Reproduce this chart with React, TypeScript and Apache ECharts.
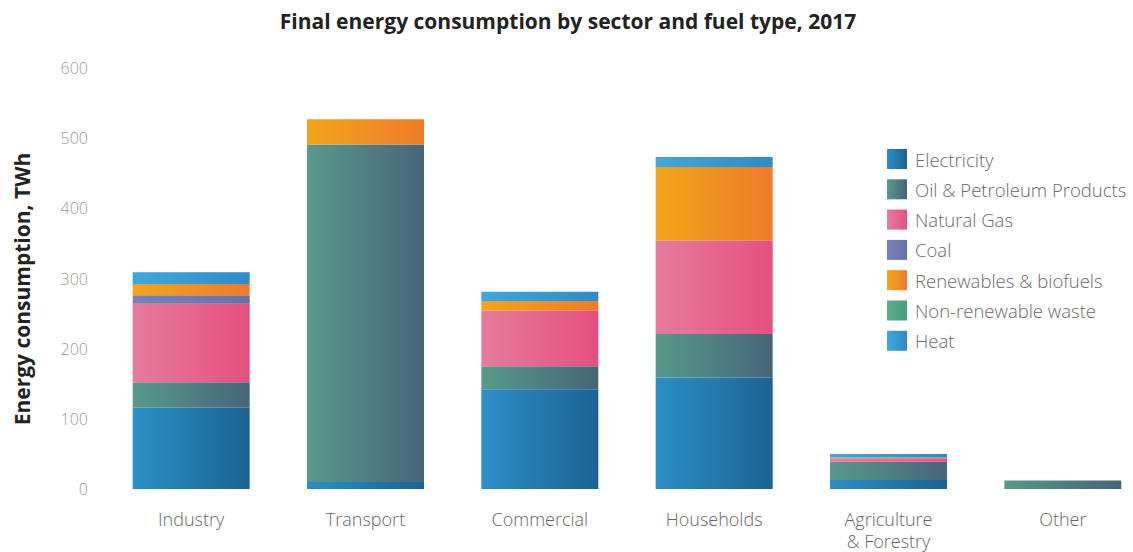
import React, { useEffect, useRef } from "react";
import * as echarts from "echarts";

const categories = ["Industry", "Transport", "Commercial", "Households", "Agriculture\n& Forestry", "Other"];
const seriesNames = [
  "Electricity",
  "Oil & Petroleum Products",
  "Natural Gas",
  "Coal",
  "Renewables & biofuels",
  "Non-renewable waste",
  "Heat",
];
const electricity = [116, 10, 142, 159, 13, 0];
const oil = [36, 481, 33, 62, 26, 12];
const naturalGas = [112, 0, 79, 133, 5, 0];
const coal = [12, 0, 0, 0, 0, 0];
const renewables = [16, 36, 14, 105, 1, 0];
const waste = [0, 0, 0, 0, 0, 0];
const heat = [17, 0, 13, 14, 5, 0];
const yTicks = [0, 100, 200, 300, 400, 500, 600];
const yAxisTitle = "Energy consumption, TWh";

const allValues = [electricity, oil, naturalGas, coal, renewables, waste, heat];
const gradients: [string, string][] = [
  ["#2b90c7", "#1b6293"],
  ["#58998b", "#476579"],
  ["#e67b9e", "#e5507f"],
  ["#7c80b6", "#6a70a6"],
  ["#f2a51a", "#ee7b2a"],
  ["#5daf8b", "#4b9a82"],
  ["#3ea8de", "#2e8bc8"],
];

export default function App() {
  const ref = useRef<HTMLDivElement>(null);
  useEffect(() => {
    if (!ref.current) return;
    const chart = echarts.init(ref.current, null, { renderer: "svg" });
    const series = seriesNames.map((name, i) => ({
      name,
      type: "bar",
      stack: "total",
      barWidth: 117,
      data: allValues[i],
      itemStyle: {
        color: new echarts.graphic.LinearGradient(0, 0, 1, 0, [
          { offset: 0, color: gradients[i][0] },
          { offset: 1, color: gradients[i][1] },
        ]),
      },
    }));
    chart.setOption({
      animation: false,
      backgroundColor: "#ffffff",
      title: {
        text: "Final energy consumption by sector and fuel type, 2017",
        left: 563,
        textAlign: "center",
        top: 5,
        textStyle: { fontFamily: "Open Sans", fontWeight: "bold", fontSize: 21, color: "#222" },
      },
      graphic: [
        {
          type: "text",
          x: 22,
          y: 289,
          rotation: Math.PI / 2,
          style: {
            text: yAxisTitle,
            fontFamily: "Open Sans",
            fontWeight: "bold",
            fontSize: 21,
            fill: "#222",
            textAlign: "center",
            textVerticalAlign: "middle",
          },
        },
      ],
      legend: {
        orient: "vertical",
        left: 882,
        top: 144,
        padding: 5,
        itemWidth: 20,
        itemHeight: 20,
        itemGap: 10.3,
        icon: "rect",
        data: seriesNames,
        textStyle: { fontFamily: "Open Sans", fontWeight: 300, fontSize: 18.5, color: "#6a6a6a", padding: [0, 0, 0, 3] },
      },
      grid: { left: 104, right: 0, top: 68, bottom: 63, outerBoundsMode: "none", containLabel: false },
      xAxis: {
        type: "category",
        data: categories,
        axisLine: { show: false },
        axisTick: { show: false },
        axisLabel: {
          fontFamily: "Open Sans",
          fontWeight: 300,
          fontSize: 18,
          color: "#666",
          margin: 19,
          lineHeight: 22,
          verticalAlign: "top",
        },
      },
      yAxis: {
        type: "value",
        min: yTicks[0],
        max: yTicks[yTicks.length - 1],
        interval: 100,
        splitLine: { show: false },
        axisLine: { show: false },
        axisTick: { show: false },
        axisLabel: { fontFamily: "Open Sans", fontWeight: 300, fontSize: 16, color: "#999", margin: 16 },
      },
      series,
    });
    return () => chart.dispose();
  }, []);
  return (
    <div style={{ position: "absolute", left: 0, top: 0, width: 1133, height: 552, overflow: "hidden" }}>
      <div ref={ref} style={{ width: 1150, height: 552 }} />
    </div>
  );
}
